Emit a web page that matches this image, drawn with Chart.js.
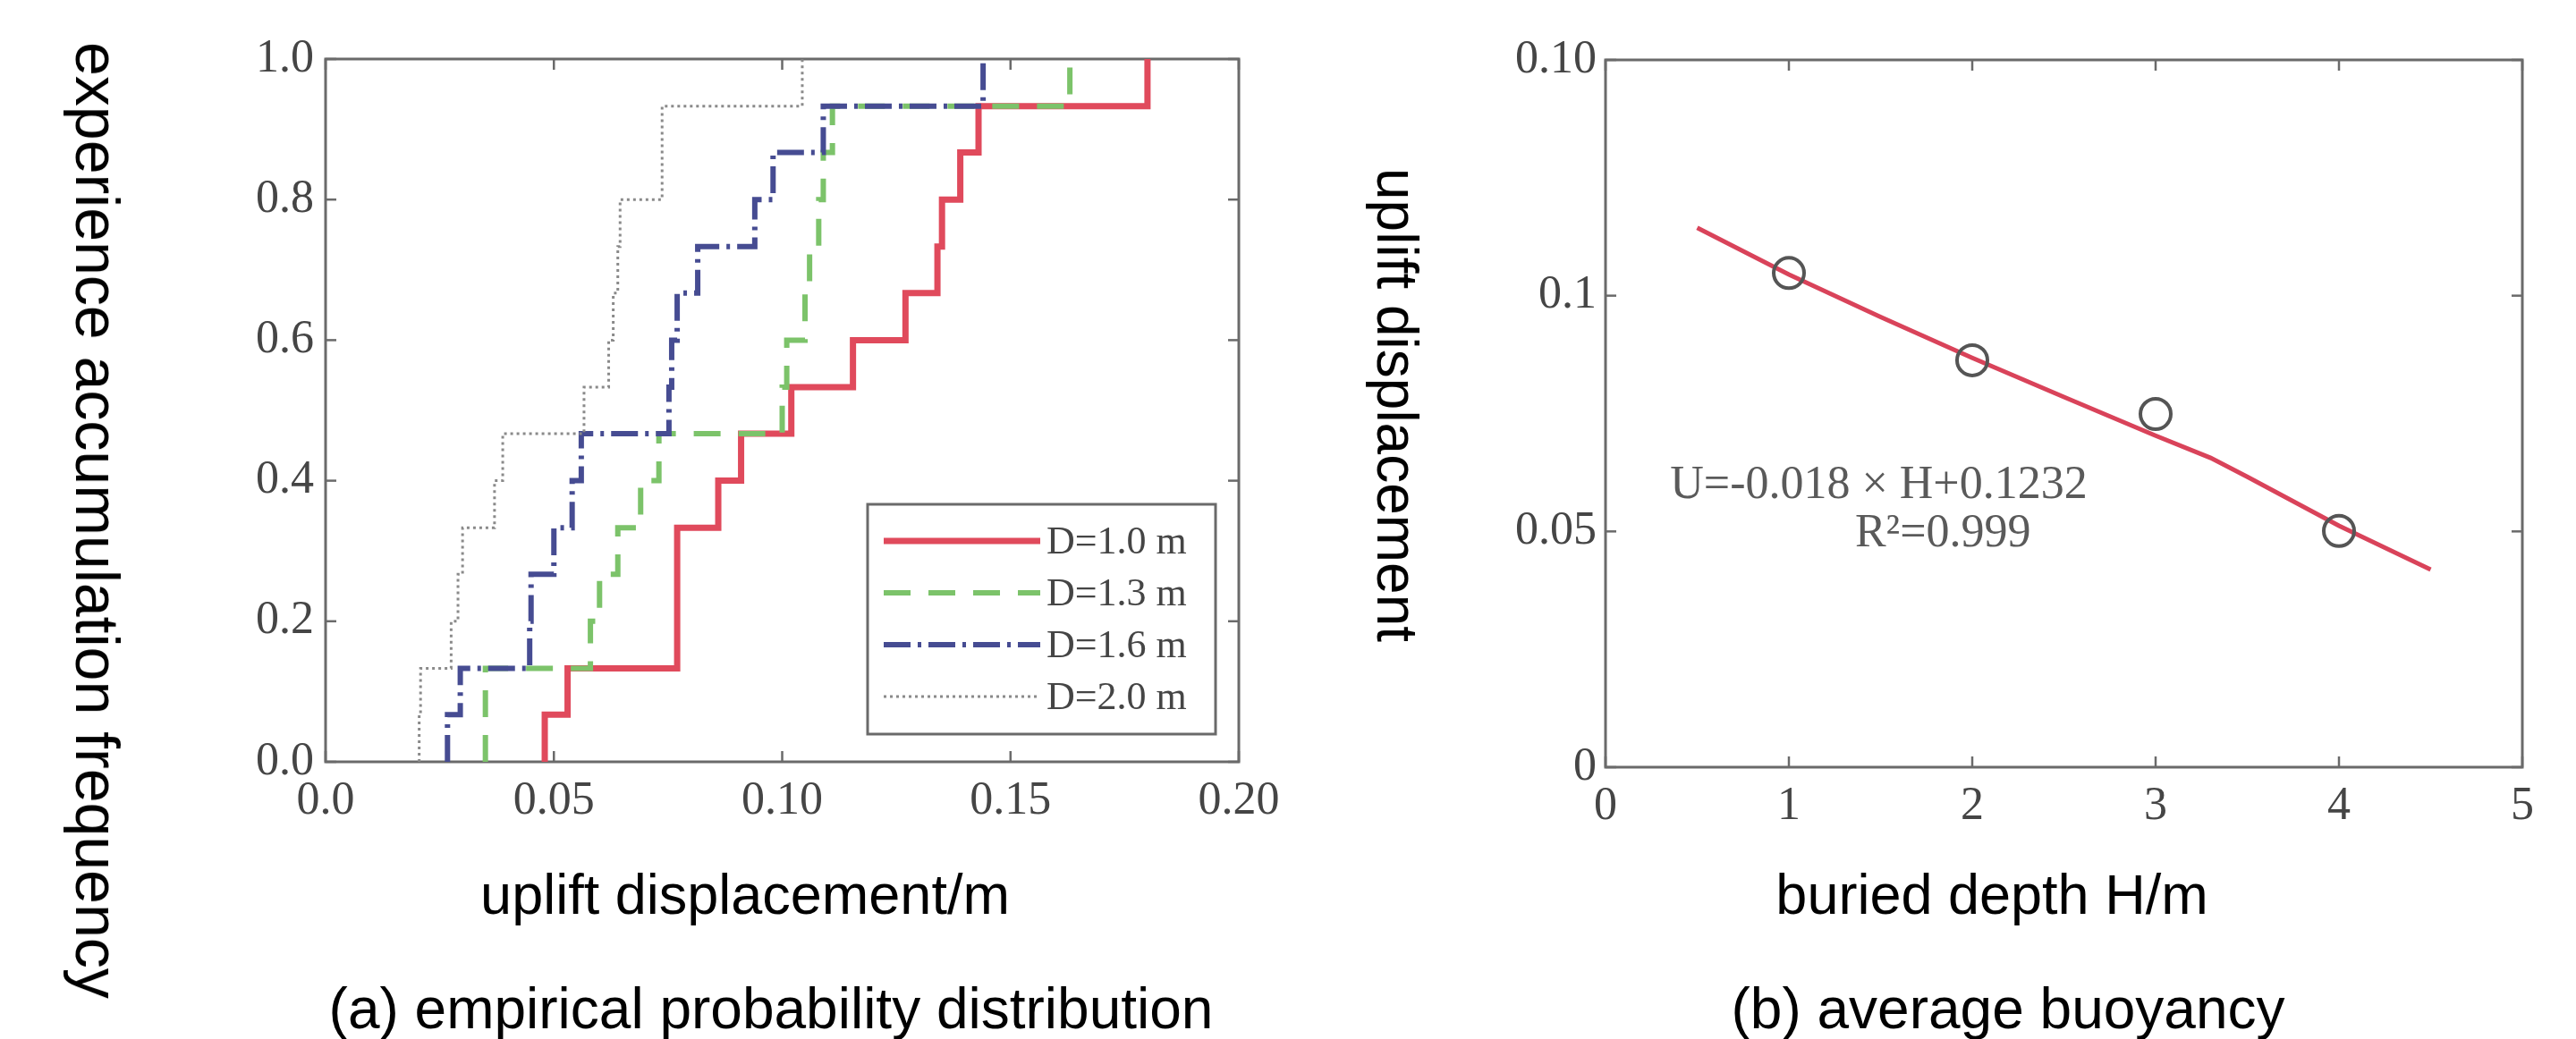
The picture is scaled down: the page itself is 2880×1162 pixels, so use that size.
<!DOCTYPE html>
<html><head><meta charset="utf-8">
<script src="https://cdn.jsdelivr.net/npm/chart.js@4.4.1/dist/chart.umd.min.js"></script>
<style>
html,body{margin:0;padding:0;background:#fff;}
body{width:2880px;height:1162px;position:relative;overflow:hidden;font-family:"Liberation Sans",Arial,sans-serif;}
.cv{position:absolute;top:0;}
.t{position:absolute;white-space:nowrap;color:#000;line-height:1;}
</style></head><body>
<div class="cv" style="left:0"><canvas id="cA" width="1450" height="960"></canvas></div>
<div class="cv" style="left:1450px"><canvas id="cB" width="1430" height="960"></canvas></div>

<div class="t" style="left:109px;top:582px;font-size:68px;transform:translate(-50%,-50%) rotate(90deg)">experience accumulation frequency</div>
<div class="t" style="left:833px;top:969px;font-size:63px;transform:translateX(-50%)">uplift displacement/m</div>
<div class="t" style="left:862px;top:1096px;font-size:64px;transform:translateX(-50%)">(a) empirical probability distribution</div>
<div class="t" style="left:1562px;top:453px;font-size:64px;transform:translate(-50%,-50%) rotate(90deg)">uplift displacement</div>
<div class="t" style="left:2227px;top:969px;font-size:63px;transform:translateX(-50%)">buried depth H/m</div>
<div class="t" style="left:2245px;top:1096px;font-size:64px;transform:translateX(-50%)">(b) average buoyancy</div>

<script>
// ---------- data: panel (a) empirical CDF ----------
const freqLevels = [0, 0.067, 0.133, 0.2, 0.267, 0.333, 0.4, 0.467, 0.533, 0.6, 0.667, 0.733, 0.8, 0.867, 0.933, 1.0];
const seriesLabels = ["D=1.0 m", "D=1.3 m", "D=1.6 m", "D=2.0 m"];
const uD10 = [0.048, 0.048, 0.053, 0.077, 0.077, 0.077, 0.086, 0.091, 0.102, 0.1155, 0.127, 0.134, 0.135, 0.139, 0.143, 0.180];
const uD13 = [0.035, 0.035, 0.035, 0.058, 0.060, 0.064, 0.069, 0.073, 0.100, 0.101, 0.105, 0.106, 0.108, 0.109, 0.111, 0.163];
const uD16 = [0.0267, 0.0267, 0.0295, 0.0447, 0.045, 0.050, 0.054, 0.056, 0.0752, 0.0758, 0.077, 0.0815, 0.094, 0.098, 0.109, 0.144];
const uD20 = [0.0205, 0.0205, 0.0208, 0.0275, 0.029, 0.030, 0.037, 0.0388, 0.0566, 0.062, 0.063, 0.064, 0.0645, 0.0737, 0.0737, 0.1044];
const xTickLabelsA = ["0.0", "0.05", "0.10", "0.15", "0.20"];
const yTickLabelsA = ["0.0", "0.2", "0.4", "0.6", "0.8", "1.0"];

// ---------- data: panel (b) average buoyancy ----------
const depthH = [1, 2, 3, 4];
const upliftU = [0.1048, 0.0863, 0.0749, 0.0501];
const fitH = [0.5, 1, 1.5, 2, 2.5, 3, 3.3, 3.5, 4, 4.5];
const fitU = [0.1144, 0.1045, 0.0955, 0.0868, 0.0785, 0.0703, 0.0656, 0.0616, 0.0512, 0.0419];
const xTickLabelsB = ["0", "1", "2", "3", "4", "5"];
const yTickLabelsB = ["0", "0.05", "0.1", "0.10"];
const fitText = ["U=-0.018 \u00d7 H+0.1232", "R\u00b2=0.999"];

const pts = (xs, ys) => xs.map((x, i) => ({x: x, y: ys[i]}));

const tickFont = {family: "'Liberation Serif','Times New Roman',serif", size: 52};
const tickColor = '#454545';

const frameTicks = {
  id: 'frameTicks',
  beforeDatasetsDraw(chart) {
    const {ctx, chartArea: a, scales} = chart;
    ctx.save();
    ctx.strokeStyle = '#6a6a6a';
    ctx.lineWidth = 2.5;
    const L = 12;
    const seg = (x1, y1, x2, y2) => { ctx.beginPath(); ctx.moveTo(x1, y1); ctx.lineTo(x2, y2); ctx.stroke(); };
    scales.x.ticks.forEach(t => {
      const p = scales.x.getPixelForValue(t.value);
      seg(p, a.bottom, p, a.bottom - L); seg(p, a.top, p, a.top + L);
    });
    scales.y.ticks.forEach(t => {
      const p = scales.y.getPixelForValue(t.value);
      seg(a.left, p, a.left + L, p); seg(a.right, p, a.right - L, p);
    });
    ctx.lineWidth = 3;
    ctx.strokeRect(a.left, a.top, a.right - a.left, a.bottom - a.top);
    ctx.restore();
  }
};

const boxLegend = {
  id: 'boxLegend',
  afterDraw(chart) {
    const {ctx, chartArea: a} = chart;
    const w = 389, h = 257;
    const x0 = a.right - 26 - w, y0 = a.bottom - 31 - h;
    ctx.save();
    ctx.fillStyle = '#fff';
    ctx.fillRect(x0, y0, w, h);
    ctx.strokeStyle = '#6a6a6a'; ctx.lineWidth = 3;
    ctx.strokeRect(x0, y0, w, h);
    chart.data.datasets.forEach((ds, i) => {
      const yy = y0 + 41 + i * 58;
      ctx.strokeStyle = ds.borderColor;
      ctx.lineWidth = ds.borderWidth;
      ctx.setLineDash(ds.borderDash || []);
      ctx.beginPath(); ctx.moveTo(x0 + 18, yy); ctx.lineTo(x0 + 193, yy); ctx.stroke();
      ctx.setLineDash([]);
      ctx.fillStyle = '#454545';
      ctx.font = "44px 'Liberation Serif', serif";
      ctx.textBaseline = 'middle'; ctx.textAlign = 'left';
      ctx.fillText(ds.label, x0 + 200, yy + 2);
    });
    ctx.restore();
  }
};

const fitLabel = {
  id: 'fitLabel',
  afterDraw(chart) {
    const {ctx, scales} = chart;
    ctx.save();
    ctx.fillStyle = '#5a5a5a';
    ctx.font = "52px 'Liberation Serif', serif";
    ctx.textAlign = 'center'; ctx.textBaseline = 'middle';
    ctx.fillText(fitText[0], scales.x.getPixelForValue(1.49), scales.y.getPixelForValue(0.0597));
    ctx.fillText(fitText[1], scales.x.getPixelForValue(1.84), scales.y.getPixelForValue(0.0495));
    ctx.restore();
  }
};

const stepStyle = [
  {c: '#e04a5c', w: 7, d: []},
  {c: '#7cc36a', w: 6, d: [30, 20]},
  {c: '#464c92', w: 6, d: [30, 8, 4, 8]},
  {c: '#8a8a8a', w: 3, d: [3, 4]}
];
const stepData = [uD10, uD13, uD16, uD20];

new Chart(document.getElementById('cA'), {
  type: 'scatter',
  data: {
    datasets: stepData.map((xs, i) => ({
      label: seriesLabels[i],
      data: pts(xs, freqLevels),
      showLine: true, stepped: 'before',
      borderColor: stepStyle[i].c, borderWidth: stepStyle[i].w, borderDash: stepStyle[i].d,
      pointRadius: 0, fill: false, order: 4 - i
    }))
  },
  options: {
    responsive: false, animation: false, devicePixelRatio: 1,
    layout: {padding: {left: 244, right: 65, top: 66, bottom: 48}},
    plugins: {legend: {display: false}, tooltip: {enabled: false}},
    scales: {
      x: {type: 'linear', min: 0, max: 0.2,
          ticks: {stepSize: 0.05, padding: 13, font: tickFont, color: tickColor, maxRotation: 0, autoSkip: false,
                  callback: (v, i) => xTickLabelsA[i]},
          grid: {display: false, drawTicks: false}, border: {display: false},
          afterFit: s => { s.height = 60; }},
      y: {type: 'linear', min: 0, max: 1,
          ticks: {stepSize: 0.2, padding: 13, font: tickFont, color: tickColor, autoSkip: false,
                  callback: (v, i) => yTickLabelsA[i]},
          grid: {display: false, drawTicks: false}, border: {display: false},
          afterFit: s => { s.width = 120; }}
    }
  },
  plugins: [frameTicks, boxLegend]
});

new Chart(document.getElementById('cB'), {
  type: 'scatter',
  data: {
    datasets: [
      {label: 'measured', data: pts(depthH, upliftU), showLine: false,
       pointStyle: 'circle', pointRadius: 17, borderWidth: 4, borderColor: '#555', backgroundColor: 'rgba(0,0,0,0)', order: 1},
      {label: 'fit', data: pts(fitH, fitU), showLine: true, borderColor: '#d9435a', borderWidth: 5,
       pointRadius: 0, tension: 0, fill: false, order: 2}
    ]
  },
  options: {
    responsive: false, animation: false, devicePixelRatio: 1,
    layout: {padding: {left: 225, right: 60, top: 67, bottom: 42}},
    plugins: {legend: {display: false}, tooltip: {enabled: false}},
    scales: {
      x: {type: 'linear', min: 0, max: 5,
          ticks: {stepSize: 1, padding: 13, font: tickFont, color: tickColor, maxRotation: 0, autoSkip: false,
                  callback: (v, i) => xTickLabelsB[i]},
          grid: {display: false, drawTicks: false}, border: {display: false},
          afterFit: s => { s.height = 60; }},
      y: {type: 'linear', min: 0, max: 0.15,
          ticks: {stepSize: 0.05, padding: 10, font: tickFont, color: tickColor, autoSkip: false,
                  callback: (v, i) => yTickLabelsB[i]},
          grid: {display: false, drawTicks: false}, border: {display: false},
          afterFit: s => { s.width = 120; }}
    }
  },
  plugins: [frameTicks, fitLabel]
});
</script>
</body></html>
